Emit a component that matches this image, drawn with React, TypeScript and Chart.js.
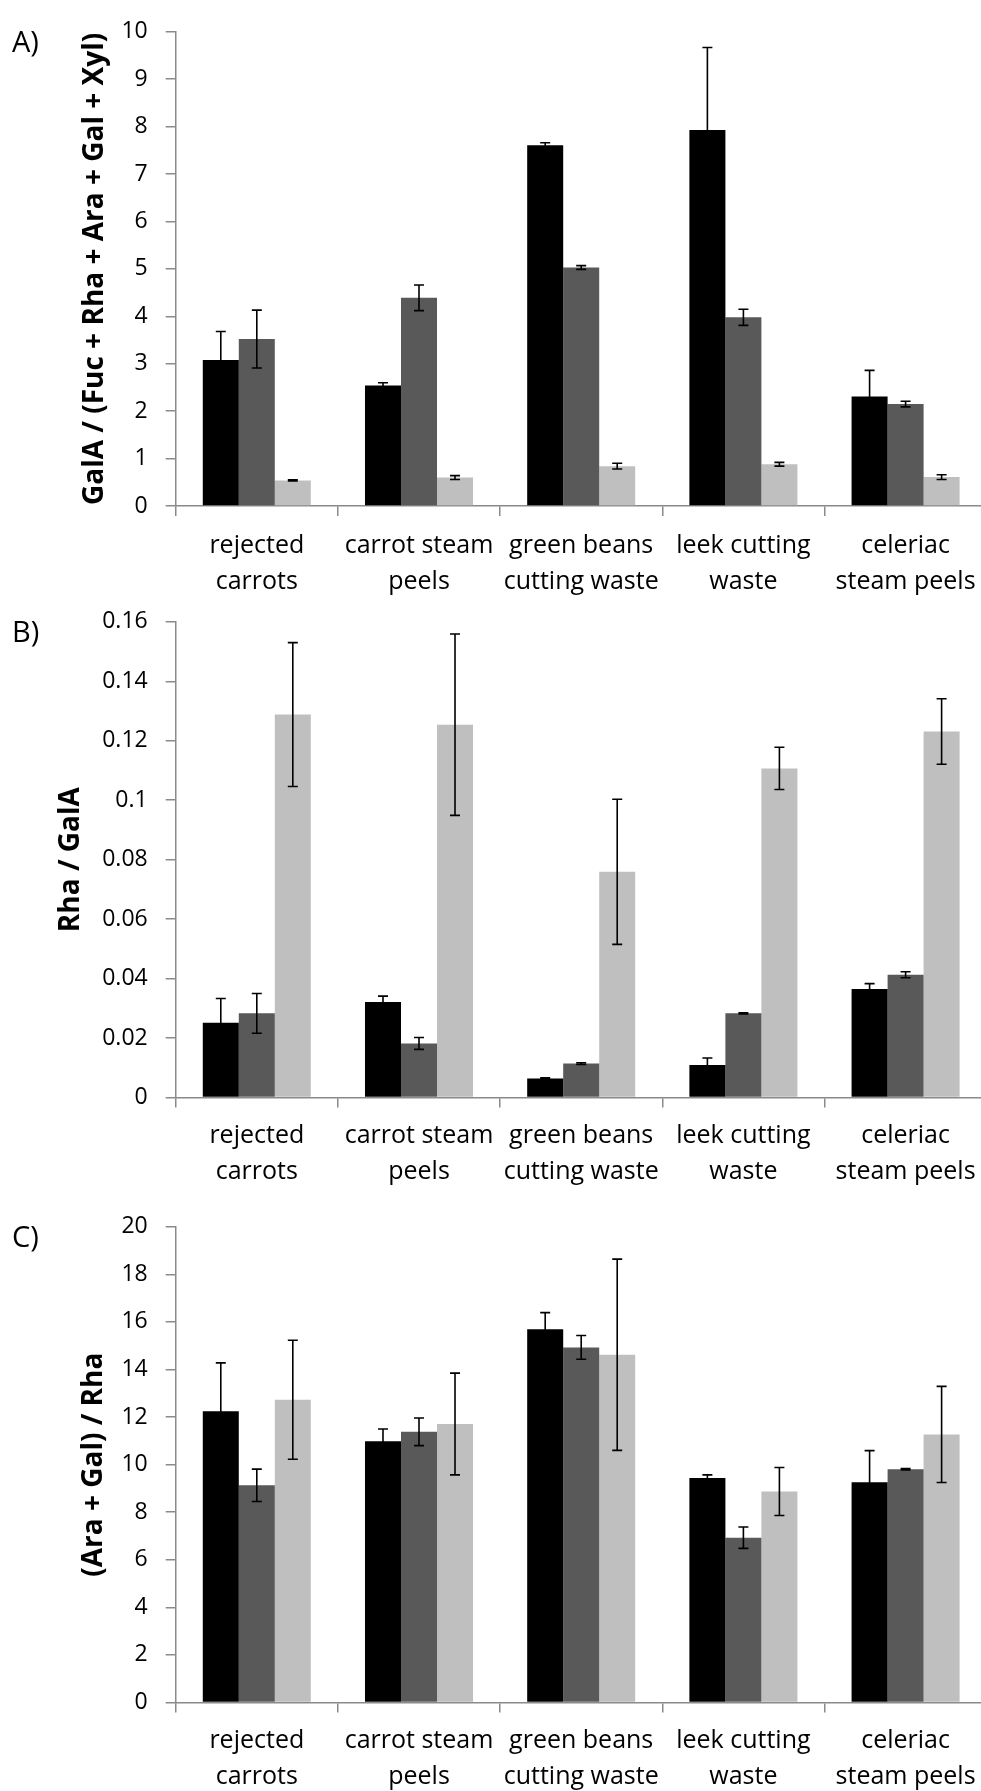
import React, { useEffect, useRef } from 'react';
import { Chart, registerables } from 'chart.js';

Chart.register(...registerables);

// ---------- data ----------
const categories = [
  ['rejected', 'carrots'],
  ['carrot steam', 'peels'],
  ['green beans', 'cutting waste'],
  ['leek cutting', 'waste'],
  ['celeriac', 'steam peels'],
];
const seriesNames = ['Series 1', 'Series 2', 'Series 3'];
const seriesColors = ['#000000', '#595959', '#BFBFBF'];

// Panel A: GalA / (Fuc + Rha + Ara + Gal + Xyl)
const aSeries1 = [3.08, 2.54, 7.61, 7.93, 2.31];
const aSeries1Err = [0.6, 0.06, 0.05, 1.74, 0.55];
const aSeries2 = [3.52, 4.39, 5.03, 3.98, 2.15];
const aSeries2Err = [0.61, 0.27, 0.04, 0.17, 0.06];
const aSeries3 = [0.54, 0.6, 0.84, 0.88, 0.61];
const aSeries3Err = [0.01, 0.04, 0.06, 0.04, 0.05];
const aTicks = ['0', '1', '2', '3', '4', '5', '6', '7', '8', '9', '10'];

// Panel B: Rha / GalA
const bSeries1 = [0.0251, 0.0321, 0.0064, 0.0109, 0.0365];
const bSeries1Err = [0.0082, 0.002, 0.0002, 0.0024, 0.0018];
const bSeries2 = [0.0283, 0.0182, 0.0114, 0.0283, 0.0413];
const bSeries2Err = [0.0067, 0.002, 0.0003, 0.0002, 0.001];
const bSeries3 = [0.1288, 0.1254, 0.0759, 0.1107, 0.1231];
const bSeries3Err = [0.0242, 0.0305, 0.0244, 0.0071, 0.011];
const bTicks = ['0', '0.02', '0.04', '0.06', '0.08', '0.1', '0.12', '0.14', '0.16'];

// Panel C: (Ara + Gal) / Rha
const cSeries1 = [12.24, 10.98, 15.69, 9.44, 9.26];
const cSeries1Err = [2.04, 0.52, 0.7, 0.13, 1.33];
const cSeries2 = [9.13, 11.38, 14.93, 6.93, 9.81];
const cSeries2Err = [0.68, 0.58, 0.5, 0.45, 0.03];
const cSeries3 = [12.73, 11.71, 14.62, 8.87, 11.27];
const cSeries3Err = [2.5, 2.14, 4.02, 1.01, 2.02];
const cTicks = ['0', '2', '4', '6', '8', '10', '12', '14', '16', '18', '20'];

// ---------- styling ----------
const FONT = "'Open Sans', 'DejaVu Sans', sans-serif";
const AXIS_GREY = '#8a8a8a';
const CANVAS_W = 1000;
const PLOT_LEFT = 175.7;
const PLOT_RIGHT = 986.7;

const errorBarPlugin = {
  id: 'errorBars',
  afterDatasetsDraw(chart: any) {
    const { ctx } = chart;
    const yScale = chart.scales.y;
    ctx.save();
    ctx.strokeStyle = '#000000';
    ctx.lineWidth = 1.6;
    chart.data.datasets.forEach((ds: any, i: number) => {
      const meta = chart.getDatasetMeta(i);
      meta.data.forEach((bar: any, j: number) => {
        const v = ds.data[j];
        const e = ds.errors[j];
        const x = bar.x;
        const yt = yScale.getPixelForValue(v + e);
        const yb = yScale.getPixelForValue(v - e);
        ctx.beginPath();
        ctx.moveTo(x, yt);
        ctx.lineTo(x, yb);
        ctx.moveTo(x - 5, yt);
        ctx.lineTo(x + 5, yt);
        ctx.moveTo(x - 5, yb);
        ctx.lineTo(x + 5, yb);
        ctx.stroke();
      });
    });
    ctx.restore();
  },
};

type PanelProps = {
  top: number;
  height: number;
  xHeight: number;
  values: number[][];
  errors: number[][];
  ticks: string[];
  max: number;
  step: number;
  title: string;
  titlePad: number;
  labelPad: number;
};

function Panel(p: PanelProps) {
  const ref = useRef<HTMLCanvasElement | null>(null);
  useEffect(() => {
    if (!ref.current) return;
    const chart = new Chart(ref.current, {
      type: 'bar',
      data: {
        labels: categories,
        datasets: p.values.map((vals, i) => ({
          label: seriesNames[i],
          data: vals,
          errors: p.errors[i],
          backgroundColor: seriesColors[i],
          borderWidth: 0,
          categoryPercentage: 0.666,
          barPercentage: 1.0,
        })) as any,
      },
      options: {
        responsive: false,
        animation: false,
        devicePixelRatio: 1,
        layout: { padding: { top: 26, left: 0, right: CANVAS_W - PLOT_RIGHT, bottom: 0 } },
        plugins: { legend: { display: false }, tooltip: { enabled: false } },
        scales: {
          x: {
            afterFit: (scale: any) => {
              scale.height = p.xHeight;
            },
            grid: {
              drawOnChartArea: false,
              drawTicks: true,
              tickLength: 10,
              color: AXIS_GREY,
              lineWidth: 1.5,
              offset: true,
            },
            border: { display: true, color: AXIS_GREY, width: 1.5 },
            ticks: {
              color: '#000000',
              font: { family: FONT, size: 25, lineHeight: 1.44 },
              padding: p.labelPad,
              maxRotation: 0,
              minRotation: 0,
              autoSkip: false,
            },
          },
          y: {
            min: 0,
            max: p.max,
            afterFit: (scale: any) => {
              scale.width = PLOT_LEFT;
            },
            grid: {
              drawOnChartArea: false,
              drawTicks: true,
              tickLength: 10,
              color: AXIS_GREY,
              lineWidth: 1.5,
            },
            border: { display: true, color: AXIS_GREY, width: 1.5 },
            ticks: {
              stepSize: p.step,
              color: '#000000',
              font: { family: FONT, size: 23 },
              padding: 18,
              callback: (_v: any, idx: number) => p.ticks[idx],
            },
            title: {
              display: true,
              text: p.title,
              color: '#000000',
              font: { family: FONT, size: 28, weight: 'bold', lineHeight: 1.2 },
              padding: { top: p.titlePad, bottom: 0 },
            },
          },
        },
      },
      plugins: [errorBarPlugin],
    } as any);
    return () => chart.destroy();
  }, []);
  return (
    <canvas
      ref={ref}
      width={CANVAS_W}
      height={p.height}
      style={{ position: 'absolute', left: 0, top: p.top, width: CANVAS_W, height: p.height }}
    />
  );
}

const panelLabelStyle = (top: number): React.CSSProperties => ({
  position: 'absolute',
  left: 12,
  top,
  fontFamily: FONT,
  fontSize: 29,
  lineHeight: '29px',
  color: '#000',
});

export default function App() {
  return (
    <div
      style={{
        position: 'absolute',
        left: 0,
        top: 0,
        width: 981,
        height: 1791,
        overflow: 'hidden',
        background: '#ffffff',
      }}
    >
      <Panel
        top={0}
        height={615}
        xHeight={109}
        values={[aSeries1, aSeries2, aSeries3]}
        errors={[aSeries1Err, aSeries2Err, aSeries3Err]}
        ticks={aTicks}
        max={10}
        step={1}
        title="GalA / (Fuc + Rha + Ara + Gal + Xyl)"
        titlePad={78.2}
        labelPad={12}
      />
      <Panel
        top={590}
        height={610}
        xHeight={102.5}
        values={[bSeries1, bSeries2, bSeries3]}
        errors={[bSeries1Err, bSeries2Err, bSeries3Err]}
        ticks={bTicks}
        max={0.16}
        step={0.02}
        title="Rha / GalA"
        titlePad={54.5}
        labelPad={10}
      />
      <Panel
        top={1195}
        height={596}
        xHeight={88.5}
        values={[cSeries1, cSeries2, cSeries3]}
        errors={[cSeries1Err, cSeries2Err, cSeries3Err]}
        ticks={cTicks}
        max={20}
        step={2}
        title="(Ara + Gal) / Rha"
        titlePad={77.2}
        labelPad={10}
      />
      <div style={panelLabelStyle(26)}>A)</div>
      <div style={panelLabelStyle(616)}>B)</div>
      <div style={panelLabelStyle(1221)}>C)</div>
    </div>
  );
}
